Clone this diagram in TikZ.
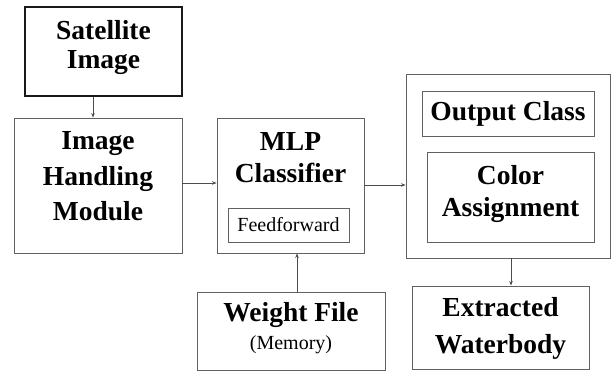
\documentclass[tikz,border=0pt]{standalone}
\usepackage{fontspec}
\setmainfont{Liberation Serif}
\usetikzlibrary{arrows.meta}

\tikzset{
  box/.style={draw=black!62, line width=0.9pt, rectangle, inner sep=0pt},
  strongbox/.style={draw=black!90, line width=1.5pt, rectangle, inner sep=0pt},
  title/.style={font=\bfseries\fontsize{27.5}{#1}\selectfont, align=center, inner sep=0pt},
  title/.default=30,
  plain/.style={font=\fontsize{20}{24}\selectfont, inner sep=0pt},
  arr/.style={draw=black!70, line width=0.9pt, -{Stealth[length=4.5pt,width=3.5pt]}}
}

\begin{document}
\begin{tikzpicture}[x=1pt, y=-1pt]
\useasboundingbox (0,0) rectangle (612,371);

% frames
\node[strongbox, minimum width=157pt, minimum height=89pt]  (sat)    at (103.5,51.5) {};
\node[box, minimum width=168pt, minimum height=135pt]       (ihm)    at (98,185.5)   {};
\node[box, minimum width=147pt, minimum height=135pt]       (mlp)    at (290.5,185.5){};
\node[box, minimum width=121pt, minimum height=34pt]        (ff)     at (288.5,225)  {};
\node[box, minimum width=188pt, minimum height=78pt]        (weight) at (291,331)    {};
\node[box, minimum width=204pt, minimum height=184pt]       (group)  at (508,166)    {};
\node[box, minimum width=172pt, minimum height=45pt]        (oc)     at (508,113.5)  {};
\node[box, minimum width=167pt, minimum height=90pt]        (ca)     at (510.5,197)  {};
\node[box, minimum width=177pt, minimum height=83pt]        (ext)    at (500.5,327.5){};

% labels
\node[title=29]   (sat-t) at (103.5,47.5) {Satellite\\Image};
\node[title=35.5] (ihm-t) at (98,176.5)   {Image\\Handling\\Module};
\node[title=32]   (mlp-t) at (290.5,158)  {MLP\\Classifier};
\node[plain]      (ff-t)  at (288.5,225)  {Feedforward};
\node[title]      (w-t)   at (291,314.5)  {Weight File};
\node[plain]      (w-m)   at (291,344.5)  {(Memory)};
\node[title]      (oc-t)  at (508,113.5)  {Output Class};
\node[title=32]   (ca-t)  at (510.5,193.5){Color\\Assignment};
\node[title=37]   (ext-t) at (500.5,328)  {Extracted\\Waterbody};

% connectors
\draw[arr] ([xshift=-10.5pt]sat.south) -- ([xshift=-10.5pt]sat.south |- ihm.north);
\draw[arr] ([yshift=2.5pt]ihm.east) -- ([yshift=2.5pt]ihm.east -| mlp.west);
\draw[arr] ([yshift=0.5pt]mlp.east) -- ([yshift=0.5pt]mlp.east -| group.west);
\draw[arr] ([xshift=6pt]weight.north) -- ([xshift=6pt]weight.north |- mlp.south);
\draw[arr] ([xshift=3pt]group.south) -- ([xshift=3pt]group.south |- ext.north);
\end{tikzpicture}
\end{document}
